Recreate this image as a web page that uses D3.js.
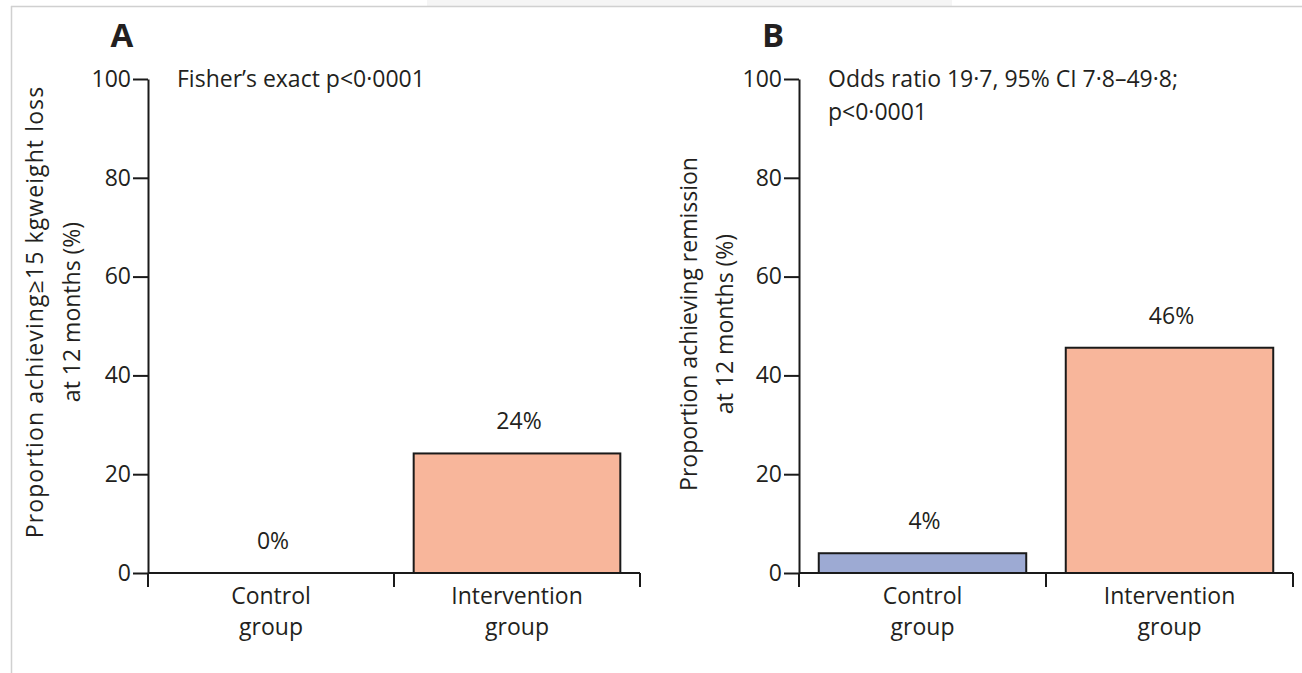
<!DOCTYPE html>
<html>
<head>
<meta charset="utf-8">
<script src="https://cdn.jsdelivr.net/npm/d3@7"></script>
<style>
  html, body { margin: 0; padding: 0; background: #fff; }
  svg { display: block; }
  text { font-family: "Open Sans", "Noto Sans", sans-serif; fill: #231f20; }
</style>
</head>
<body>
<svg id="chart" width="1302" height="673"></svg>
<script>
// data
const groups = [["Control", "group"], ["Intervention", "group"]];
const weightLoss = [0, 24.2];
const weightLossLabels = ["0%", "24%"];
const remission = [4.0, 45.6];
const remissionLabels = ["4%", "46%"];
const yTicks = [0, 20, 40, 60, 80, 100];
const barColors = ["#9DAAD3", "#F8B69B"];

const svg = d3.select("#chart");

// page frame like the source scan
svg.append("rect").attr("x", 427).attr("y", 0).attr("width", 525).attr("height", 6).attr("fill", "#f5f5f5");
svg.append("line").attr("x1", 11).attr("x2", 1302).attr("y1", 6.5).attr("y2", 6.5).attr("stroke", "#d0d0d0").attr("stroke-width", 1.5);
svg.append("line").attr("x1", 11.5).attr("x2", 11.5).attr("y1", 6).attr("y2", 673).attr("stroke", "#d0d0d0").attr("stroke-width", 1.5);

const y = d3.scaleLinear().domain([0, 100]).range([573, 79]);

function drawPanel(opts) {
  const g = svg.append("g");
  const x = d3.scaleBand().domain(d3.range(groups.length)).range([opts.x0, opts.x1]).padding(0);
  const barW = x.bandwidth() * 0.84;

  // panel letter
  g.append("text")
    .attr("x", opts.x0 - 26).attr("y", 47)
    .attr("text-anchor", "middle")
    .style("font-size", "33px").style("font-weight", "bold")
    .text(opts.letter);

  // y axis
  const yAxis = g.append("g")
    .attr("transform", `translate(${opts.x0},0)`)
    .call(d3.axisLeft(y).tickValues(yTicks).tickSize(15).tickSizeOuter(0).tickPadding(2));
  yAxis.select(".domain").attr("stroke", "#1a1a1a").attr("stroke-width", 2);
  yAxis.selectAll(".tick line").attr("stroke", "#1a1a1a").attr("stroke-width", 2);
  yAxis.selectAll(".tick text").style("font-size", "23px").style("font-family", "'Open Sans', sans-serif").attr("fill", "#231f20");

  // bars
  g.selectAll("rect.bar").data(opts.values).enter().append("rect")
    .attr("class", "bar")
    .attr("x", (d, i) => x(i) + (x.bandwidth() - barW) / 2)
    .attr("width", barW)
    .attr("y", d => y(d))
    .attr("height", d => y(0) - y(d))
    .attr("fill", (d, i) => barColors[i])
    .attr("stroke", d => d > 0 ? "#1a1a1a" : "none")
    .attr("stroke-width", 2);

  // x axis line and band edge ticks
  g.append("line")
    .attr("x1", opts.x0).attr("x2", opts.x1)
    .attr("y1", y(0)).attr("y2", y(0))
    .attr("stroke", "#1a1a1a").attr("stroke-width", 2);
  const edges = d3.range(groups.length).map(i => x(i)).concat([opts.x1]);
  g.selectAll("line.xtick").data(edges).enter().append("line")
    .attr("class", "xtick")
    .attr("x1", d => d).attr("x2", d => d)
    .attr("y1", y(0)).attr("y2", y(0) + 14)
    .attr("stroke", "#1a1a1a").attr("stroke-width", 2);

  // value labels
  g.selectAll("text.val").data(opts.values).enter().append("text")
    .attr("class", "val")
    .attr("x", (d, i) => x(i) + x.bandwidth() / 2 + 2)
    .attr("y", d => y(d) - 24)
    .attr("text-anchor", "middle")
    .style("font-size", "23px")
    .text((d, i) => opts.labels[i]);

  // category labels
  groups.forEach((lines, i) => {
    lines.forEach((t, j) => {
      g.append("text")
        .attr("x", x(i) + x.bandwidth() / 2)
        .attr("y", 604 + j * 31)
        .attr("text-anchor", "middle")
        .style("font-size", "23px")
        .text(t);
    });
  });

  // annotation
  opts.note.forEach((t, j) => {
    g.append("text")
      .attr("x", opts.x0 + 29).attr("y", 87 + j * 33)
      .style("font-size", "23px")
      .text(t);
  });

  // y title
  opts.yTitle.forEach((t, j) => {
    g.append("text")
      .attr("transform", `translate(${opts.titleX[j]},${opts.titleY}) rotate(-90)`)
      .attr("text-anchor", "middle")
      .style("font-size", "23px")
      .style("letter-spacing", opts.titleSpacing[j] + "px")
      .text(t);
  });
}

drawPanel({
  letter: "A", x0: 148, x1: 640,
  values: weightLoss, labels: weightLossLabels,
  note: ["Fisher\u2019s exact p<0\u00b70001"],
  yTitle: ["Proportion achieving\u226515 kgweight loss", "at 12 months (%)"],
  titleSpacing: [1.1, 0],
  titleX: [43, 80], titleY: 312
});

drawPanel({
  letter: "B", x0: 799, x1: 1293,
  values: remission, labels: remissionLabels,
  note: ["Odds ratio 19\u00b77, 95% CI 7\u00b78\u201349\u00b78;", "p<0\u00b70001"],
  yTitle: ["Proportion achieving remission", "at 12 months (%)"],
  titleSpacing: [0, 0],
  titleX: [697, 733], titleY: 324
});
</script>
</body>
</html>
